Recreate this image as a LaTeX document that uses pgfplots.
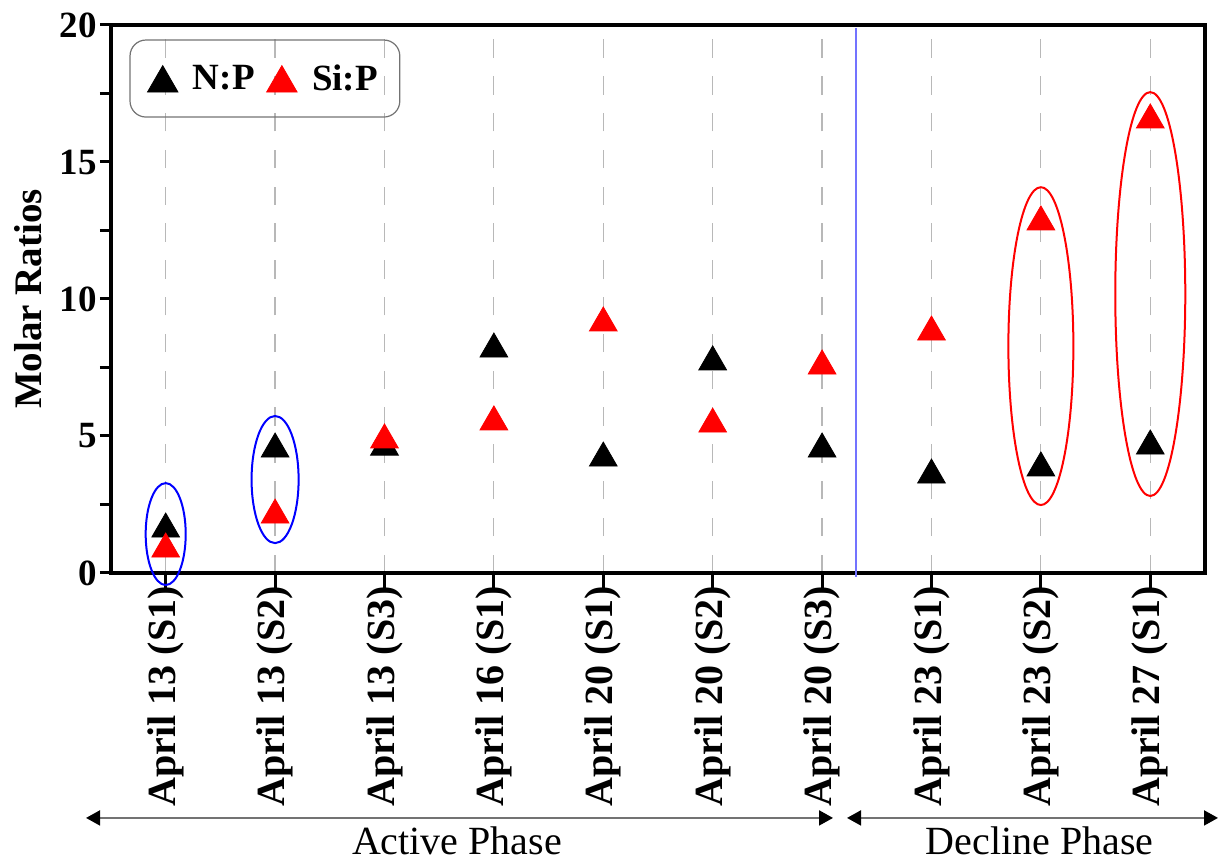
\documentclass[border=0pt]{standalone}
\usepackage{fontspec}
\setmainfont{Liberation Serif}
\usepackage{pgfplots}
\usepackage{pgfplotstable}
\pgfplotsset{compat=1.18}
\usetikzlibrary{arrows.meta}

\pgfplotstableread{
x np sip
0 1.75 1.02
1 4.67 2.26
2 4.74 5.00
3 8.32 5.66
4 4.34 9.27
5 7.85 5.58
6 4.67 7.70
7 3.72 8.94
8 3.98 12.96
9 4.78 16.68
}\ratios

\newcommand\lblfont{\fontsize{20}{22}\selectfont}
\newcommand\ylblfont{\fontsize{19.5}{22}\selectfont}
\newcommand\tickfont{\fontsize{18.5}{20}\selectfont}
\newcommand\legfont{\fontsize{18.5}{20}\selectfont}

\begin{document}
\begin{tikzpicture}
\begin{axis}[
  scale only axis, width=547pt, height=274pt,
  xmin=-0.5, xmax=9.5, ymin=0, ymax=20,
  clip=false,
  axis line style={line width=2pt},
  /pgf/number format/assume math mode=true,
  xtick={0,...,9},
  xticklabels={April 13 (S1),April 13 (S2),April 13 (S3),April 16 (S1),April 20 (S1),April 20 (S2),April 20 (S3),April 23 (S1),April 23 (S2),April 27 (S1)},
  xticklabel style={rotate=90, anchor=east, font=\lblfont\bfseries, inner sep=1pt},
  ytick={0,5,10,15,20},
  minor ytick={2.5,7.5,12.5,17.5},
  yticklabel style={font=\tickfont\bfseries, inner xsep=1.5pt},
  tick align=outside,
  xtick pos=bottom, ytick pos=left,
  major tick length=5.5pt, minor tick length=5.5pt,
  every tick/.style={black, line width=1.5pt},
  xtick style={/pgfplots/major tick length=9.5pt},
  xmajorgrids,
  major grid style={black!28, line width=0.6pt, dash pattern=on 9.2pt off 9.2pt},
  ylabel={\ylblfont\bfseries Molar Ratios},
  every axis y label/.style={at={(axis description cs:-0.076,0.5)}, rotate=90, anchor=center},
  legend columns=2,
  legend style={draw=none, fill=none, at={(rel axis cs:0.0330,0.901)}, anchor=west,
    inner xsep=0pt, inner ysep=0pt, font=\legfont\bfseries,
    /tikz/every odd column/.append style={column sep=7.5pt},
    /tikz/every even column/.append style={column sep=6pt},
    nodes={inner xsep=0pt}},
  legend image code/.code={\draw[#1, mark size=8.8pt] plot coordinates {(0pt,0pt)};},
]
\addplot[only marks, mark=triangle*, mark size=8pt, color=black, mark options={yshift=-2pt}]
  table[x=x, y=np]{\ratios};
\addlegendentry{N:P}
\addplot[only marks, mark=triangle*, mark size=8pt, color=red, mark options={yshift=-2pt}]
  table[x=x, y=sip]{\ratios};
\addlegendentry{Si:P}

% legend frame
\draw[black!55, line width=0.6pt, rounded corners=8pt]
  (rel axis cs:0.0174,0.832) rectangle (rel axis cs:0.264,0.9726);

% phase separator
\draw[blue!55, line width=0.8pt] (axis cs:6.31,-0.15) -- (axis cs:6.31,19.9);

% highlight ellipses
\draw[blue, line width=1pt] (axis cs:0,1.42) ellipse [x radius=0.183, y radius=1.86];
\draw[blue, line width=1pt] (axis cs:1,3.41) ellipse [x radius=0.215, y radius=2.32];
\draw[red, line width=1pt] (axis cs:8,8.28) ellipse [x radius=0.297, y radius=5.8];
\draw[red, line width=1pt] (axis cs:9,10.18) ellipse [x radius=0.32, y radius=7.37];

% phase arrows
\draw[black!55, line width=1pt, {Triangle[black, length=7pt, width=7.5pt]}-{Triangle[black, length=7pt, width=7.5pt]}]
  (axis cs:-0.728,-8.94) -- (axis cs:6.10,-8.94);
\draw[black!55, line width=1pt, {Triangle[black, length=7pt, width=7.5pt]}-{Triangle[black, length=7pt, width=7.5pt]}]
  (axis cs:6.228,-8.94) -- (axis cs:9.619,-8.94);
\node[anchor=base, font=\lblfont, inner sep=0pt] at (axis cs:2.663,-10.29) {Active Phase};
\node[anchor=base, font=\lblfont, inner sep=0pt] at (axis cs:7.99,-10.29) {Decline Phase};

% overall picture extent
\path (axis cs:-1.5146,20.912) rectangle (axis cs:9.683,-10.693);
\end{axis}
\end{tikzpicture}
\end{document}
